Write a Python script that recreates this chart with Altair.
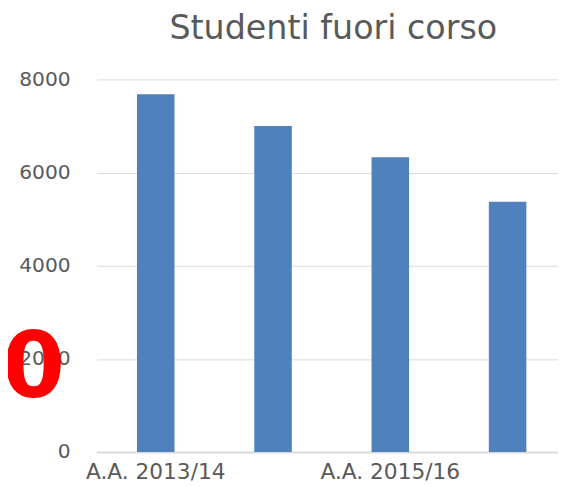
import altair as alt
import pandas as pd

categories = ["A.A. 2013/14", "A.A. 2014/15", "A.A. 2015/16", "A.A. 2016/17"]
values = [7680, 7000, 6330, 5375]
shown_labels = ["A.A. 2013/14", "A.A. 2015/16"]
y_ticks = [0, 2000, 4000, 6000, 8000]

df = pd.DataFrame({"anno": categories, "studenti": values})

FONT = "DejaVu Sans"
GREY = "#595959"

bars = alt.Chart(df).mark_bar(color="#4F81BD").encode(
    x=alt.X(
        "anno:N",
        sort=categories,
        title=None,
        scale=alt.Scale(paddingInner=0.68, paddingOuter=0.3065, align=0.56),
        axis=alt.Axis(
            values=shown_labels,
            labelAngle=0,
            labelFontSize=22,
            labelColor=GREY,
            labelFont=FONT,
            labelPadding=10,
            ticks=False,
            domainColor="#d9d9d9",
            domainWidth=2,
        ),
    ),
    y=alt.Y(
        "studenti:Q",
        title=None,
        scale=alt.Scale(domain=[0, 8000], nice=False),
        axis=alt.Axis(
            values=y_ticks,
            format="d",
            labelFontSize=20.5,
            labelColor=GREY,
            labelFont=FONT,
            labelPadding=27,
            ticks=False,
            domain=False,
            gridColor="#d9d9d9",
            gridWidth=1,
        ),
    ),
)

mark_df = pd.DataFrame({"t": ["0"], "y": [2000]})
annot = alt.Chart(mark_df).mark_text(
    color="#ff0000", fontSize=92, fontWeight="bold",
    font="DejaVu Sans",
    baseline="middle", dy=11
).encode(
    x=alt.value(-64),
    y=alt.Y("y:Q", scale=alt.Scale(domain=[0, 8000], nice=False)),
    text="t:N",
)

chart = alt.layer(bars, annot).properties(
    width=468,
    height=378,
    title=alt.TitleParams(
        "Studenti fuori corso", fontSize=33.8, font=FONT, fontWeight="normal",
        color=GREY, anchor="middle", frame="group", dx=6, offset=24,
    ),
    autosize=alt.AutoSizeParams(type="none"),
    padding={"left": 90, "top": 69, "right": 0, "bottom": 32},
).configure_view(stroke=None)

chart.save("out.html", embed_options={"renderer": "svg", "actions": False})
